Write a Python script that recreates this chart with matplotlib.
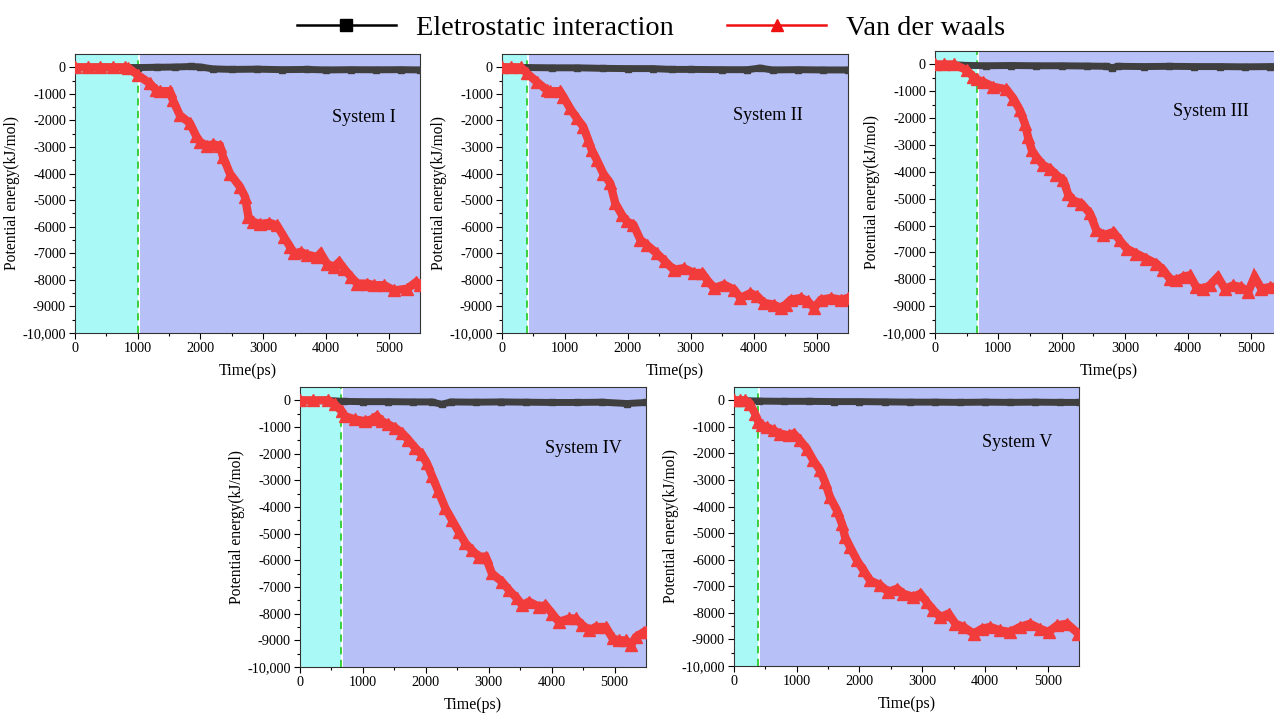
from matplotlib import pyplot as plt
from matplotlib.lines import Line2D

plt.rcParams['font.family'] = ['Liberation Serif', 'DejaVu Serif']

# ---- data (time in ps, energy in kJ/mol) ----
# System I
vdw_t_1 = [0, 200, 400, 600, 800, 850, 1000, 1190, 1290, 1350, 1510, 1560, 1670, 1830, 1935, 1990,
           2100, 2200, 2310, 2360, 2470, 2630, 2710, 2765, 2845, 2950, 3100, 3220, 3330, 3430, 3490,
           3600, 3700, 3860, 3915, 4020, 4130, 4210, 4290, 4400, 4500, 4660, 4770, 4930, 5090, 5300,
           5440, 5500]
vdw_e_1 = [0, 0, 0, 0, 0, -20, -290, -600, -850, -900, -900, -1230, -1800, -2100, -2600, -2800,
           -2950, -2900, -2950, -3370, -4000, -4500, -4870, -5630, -5820, -5900, -5850, -5950, -6380,
           -6760, -7000, -6950, -7050, -7140, -7000, -7400, -7510, -7330, -7580, -7890, -8140, -8140,
           -8200, -8200, -8400, -8330, -8080, -8200]
ele_t_1 = [0, 500, 1000, 1300, 1600, 1850, 2000, 2200, 2500, 2900, 3300, 3700, 4000, 4400, 4800, 5200, 5500]
ele_e_1 = [0, 0, -10, 0, 10, 30, 10, -60, -80, -70, -90, -80, -100, -90, -95, -90, -100]

# System II
vdw_t_2 = [0, 150, 300, 400, 550, 710, 760, 920, 975, 1080, 1190, 1290, 1370, 1425, 1505, 1610,
           1720, 1800, 1905, 1985, 2090, 2200, 2300, 2460, 2590, 2730, 2890, 3050, 3180, 3260, 3370,
           3530, 3690, 3790, 3950, 4060, 4165, 4320, 4430, 4510, 4590, 4750, 4860, 4960, 5070, 5230,
           5390, 5500]
vdw_e_2 = [0, 0, 0, -230, -540, -850, -900, -900, -1100, -1540, -1920, -2230, -2730, -3100, -3480,
           -4000, -4360, -5110, -5550, -5800, -5930, -6490, -6680, -7000, -7300, -7620, -7560, -7740,
           -7740, -8000, -8310, -8180, -8370, -8680, -8500, -8620, -8870, -8930, -9060, -8930, -8750,
           -8680, -8800, -9060, -8750, -8680, -8750, -8680]
ele_t_2 = [0, 400, 800, 1200, 1600, 2000, 2400, 2700, 3000, 3500, 3900, 4100, 4300, 4700, 5100, 5500]
ele_e_2 = [0, -10, -20, -20, -40, -50, -50, -80, -80, -90, -90, -30, -100, -90, -100, -100]

# System III
vdw_t_3 = [0, 150, 300, 500, 605, 660, 760, 920, 1130, 1240, 1340, 1420, 1470, 1530, 1600, 1710,
           1815, 1920, 2030, 2100, 2180, 2315, 2450, 2550, 2660, 2820, 2920, 3030, 3180, 3340, 3500,
           3610, 3710, 3815, 3920, 4025, 4130, 4240, 4340, 4470, 4580, 4710, 4840, 4950, 5050, 5160,
           5290, 5500]
vdw_e_3 = [0, 0, 0, -210, -460, -560, -650, -830, -930, -1270, -1700, -2200, -2700, -3190, -3440,
           -3750, -3880, -4120, -4310, -4810, -5060, -5180, -5550, -6170, -6360, -6240, -6550, -6860,
           -7040, -7230, -7420, -7660, -7980, -8040, -7910, -7850, -8290, -8350, -8230, -7910, -8350,
           -8230, -8290, -8470, -7910, -8350, -8290, -8250]
ele_t_3 = [0, 400, 800, 1200, 1600, 2000, 2400, 2700, 2800, 2900, 3300, 3700, 4100, 4500, 4900, 5300, 5500]
ele_e_3 = [0, -30, -50, -40, -50, -50, -60, -70, -120, -70, -80, -70, -80, -80, -90, -80, -80]

# System IV
vdw_t_4 = [0, 200, 450, 550, 660, 710, 870, 1030, 1140, 1220, 1300, 1400, 1510, 1620, 1720, 1830,
           1935, 2015, 2100, 2200, 2310, 2415, 2520, 2630, 2730, 2840, 2950, 3050, 3210, 3320, 3450,
           3535, 3640, 3800, 3900, 4010, 4115, 4280, 4380, 4490, 4600, 4700, 4860, 4970, 5070, 5180,
           5260, 5340, 5470, 5500]
vdw_e_4 = [0, 0, 0, -150, -400, -590, -715, -780, -715, -590, -780, -900, -1030, -1220, -1470, -1780,
           -2030, -2350, -2850, -3410, -4040, -4480, -4920, -5360, -5610, -5860, -5860, -6490, -6800,
           -7110, -7430, -7680, -7550, -7740, -7680, -8000, -8310, -8180, -8180, -8430, -8620, -8500,
           -8500, -8930, -9000, -9000, -9180, -8870, -8680, -8700]
ele_t_4 = [0, 400, 700, 1000, 1400, 1800, 2100, 2250, 2400, 2800, 3200, 3600, 4000, 4400, 4800, 5200, 5500]
ele_e_4 = [0, 0, -40, -50, -50, -60, -60, -150, -60, -70, -60, -70, -80, -80, -70, -120, -80]

# System V
vdw_t_5 = [0, 100, 180, 255, 335, 390, 440, 520, 630, 730, 870, 950, 1050, 1160, 1265, 1370, 1450,
           1530, 1640, 1720, 1770, 1850, 1960, 2065, 2170, 2330, 2460, 2600, 2700, 2860, 2970, 3070,
           3180, 3290, 3420, 3530, 3660, 3820, 3950, 4085, 4245, 4400, 4560, 4720, 4880, 5015, 5150,
           5310, 5490]
vdw_e_5 = [0, 0, 0, -125, -500, -815, -940, -1000, -1130, -1250, -1320, -1250, -1500, -1820, -2260,
           -2630, -3070, -3640, -4140, -4640, -5140, -5520, -6020, -6400, -6780, -6960, -7210, -7090,
           -7280, -7400, -7280, -7590, -7900, -8160, -8030, -8410, -8530, -8780, -8600, -8530, -8660,
           -8720, -8530, -8410, -8600, -8720, -8470, -8410, -8780]
ele_t_5 = [0, 400, 800, 1200, 1600, 2000, 2400, 2800, 3200, 3600, 4000, 4400, 4800, 5200, 5500]
ele_e_5 = [0, -30, -40, -40, -50, -50, -60, -70, -70, -80, -70, -80, -70, -80, -80]

# end of the first (cyan) stage in each system
stage_end = [1000, 400, 660, 650, 380]
names = ['System I', 'System II', 'System III', 'System IV', 'System V']

vdw_t = [vdw_t_1, vdw_t_2, vdw_t_3, vdw_t_4, vdw_t_5]
vdw_e = [vdw_e_1, vdw_e_2, vdw_e_3, vdw_e_4, vdw_e_5]
ele_t = [ele_t_1, ele_t_2, ele_t_3, ele_t_4, ele_t_5]
ele_e = [ele_e_1, ele_e_2, ele_e_3, ele_e_4, ele_e_5]

yticks = [0, -1000, -2000, -3000, -4000, -5000, -6000, -7000, -8000, -9000, -10000]
ytick_labels = ['0', '-1000', '-2000', '-3000', '-4000', '-5000', '-6000', '-7000', '-8000', '-9000', '-10,000']
xticks = [0, 1000, 2000, 3000, 4000, 5000]

# ---- layout (pixel boxes: left, right, top, bottom) ----
W, H = 1274, 715
boxes = [(75, 420, 54, 333), (502, 848, 54, 333), (935, 1283, 51, 333),
         (300, 646, 387, 667), (734, 1079, 387, 666)]
label_pos = [(4610, -1900), (4230, -1800), (4360, -1750), (4500, -1800), (4520, -1600)]

fig = plt.figure(figsize=(W / 100, H / 100), dpi=100)

for i in range(5):
    l, r, t, b = boxes[i]
    ax = fig.add_axes([l / W, 1 - b / H, (r - l) / W, (b - t) / H])
    ax.axvspan(0, stage_end[i], color='#a9faf7', zorder=0, lw=0)
    ax.axvspan(stage_end[i] + 35, 5500, color='#b8c0f8', zorder=0, lw=0)
    ax.axvline(stage_end[i], color='#2ecc2e', linestyle=(0, (4, 3)), lw=1.3, zorder=1)

    ax.plot(ele_t[i], ele_e[i], color='#3f3f3f', marker='s', markersize=5, linewidth=5, zorder=3)
    ax.plot(vdw_t[i], vdw_e[i], color='#f23c3c', marker='^', markersize=8, linewidth=6,
            solid_joinstyle='miter', zorder=4)

    ax.text(label_pos[i][0], label_pos[i][1], names[i], fontsize=13, ha='center', va='center')

    ax.set_xlim(0, 5500)
    ax.set_ylim(-10000, 500)
    ax.set_xticks(xticks)
    ax.set_xticks(range(500, 5500, 1000), minor=True)
    ax.set_yticks(yticks)
    ax.set_yticklabels(ytick_labels)
    ax.set_yticks(range(-9500, 500, 1000), minor=True)
    ax.tick_params(which='major', direction='out', length=4, width=0.8, labelsize=10.3, pad=2.5)
    ax.tick_params(which='minor', direction='out', length=2, width=0.8)
    ax.set_xlabel('Time(ps)', fontsize=11.5, labelpad=6)
    ax.set_ylabel('Potential energy(kJ/mol)', fontsize=11.2, labelpad=2)
    for s in ax.spines.values():
        s.set_linewidth(0.8)
        s.set_color('#333333')

handles = [Line2D([], [], color='black', marker='s', markersize=8, linewidth=1.8),
           Line2D([], [], color='#ee1111', marker='^', markersize=9, linewidth=1.8)]
fig.legend(handles, ['Eletrostatic interaction', 'Van der waals'], loc='center',
           bbox_to_anchor=(0.511, 1 - 28 / H), ncol=2, frameon=False, fontsize=20.4,
           handlelength=3.5, handletextpad=0.7, columnspacing=1.9)

fig.savefig('out.png', dpi=100)
